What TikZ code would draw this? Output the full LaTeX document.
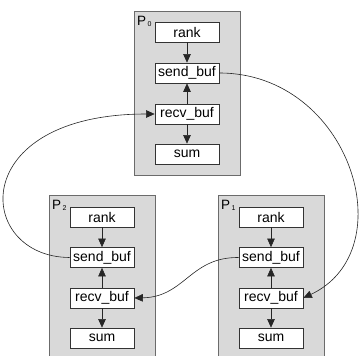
\documentclass[tikz,border=0pt]{standalone}
\usepackage{fontspec}
\setmainfont{Liberation Sans}
\usetikzlibrary{arrows.meta}
\begin{document}
\begin{tikzpicture}[x=1pt,y=-1pt,
  proc/.style={draw=black!58,fill=black!15,line width=0.9pt,minimum width=106pt,minimum height=164pt,inner sep=0pt},
  var/.style={draw=black!80,fill=white,line width=0.7pt,minimum width=64pt,minimum height=20pt,inner sep=0pt,font=\fontsize{14}{15}\selectfont},
  plabel/.style={anchor=north west,inner sep=0pt,font=\fontsize{13.5}{14}\selectfont},
  flow/.style={draw=black!85,line width=0.6pt,-{Triangle[length=8.5pt,width=7.5pt]}},
  comm/.style={draw=black!85,line width=0.6pt,-{Triangle[length=8.5pt,width=7.5pt]}}]
\useasboundingbox (0,0) rectangle (360,356);
\clip (0,0) rectangle (360,356);
% process boxes
\node[proc] (P0) at (187,93) {};
\node[proc] (P2) at (102,277) {};
\node[proc] (P1) at (271,277) {};
\node[plabel] (L0) at (137,16) {P\kern1.5pt\raisebox{-1.5pt}{\fontsize{7}{7}\selectfont 0}};
\node[plabel] (L2) at (52,200) {P\kern1.5pt\raisebox{-1.5pt}{\fontsize{7}{7}\selectfont 2}};
\node[plabel] (L1) at (221,200) {P\kern1.5pt\raisebox{-1.5pt}{\fontsize{7}{7}\selectfont 1}};
% P0
\node[var] (r0) at (187,32) {rank};
\node[var] (s0) at (187,73) {send\_buf};
\node[var] (v0) at (187,114) {recv\_buf};
\node[var] (m0) at (187,154) {sum};
% P2
\node[var] (r2) at (102,217) {rank};
\node[var] (s2) at (102,257.5) {send\_buf};
\node[var] (v2) at (102,298) {recv\_buf};
\node[var] (m2) at (102,338) {sum};
% P1
\node[var] (r1) at (271,217) {rank};
\node[var] (s1) at (271,257.5) {send\_buf};
\node[var] (v1) at (271,298) {recv\_buf};
\node[var] (m1) at (271,338) {sum};
% internal arrows
\foreach \i in {0,1,2}{
  \draw[flow] (r\i) -- (s\i);
  \draw[flow] (v\i) -- (s\i);
  \draw[flow] (v\i) -- (m\i);
}
% communication
\draw[comm] (s0.east) .. controls (350,73) and (405,250) .. (v1.east);
\draw[comm] (s2.west) .. controls (-25,257) and (-35,114) .. (v0.west);
\draw[comm] (s1.west) .. controls (190,257) and (185,297) .. (v2.east);
\end{tikzpicture}
\end{document}
